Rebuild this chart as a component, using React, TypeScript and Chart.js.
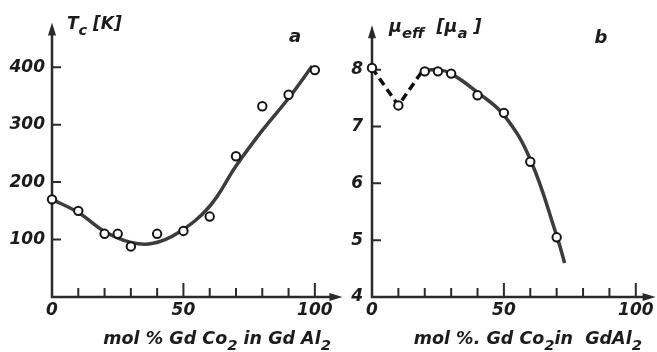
import React, { useEffect, useRef } from "react";
import { Chart, registerables } from "chart.js";

Chart.register(...registerables);

// ---------- Panel a data ----------
const A_POINT_X = [0, 10, 20, 25, 30, 40, 50, 60, 70, 80, 90, 100];
const A_POINT_Y = [170, 150, 110, 110, 88, 110, 115, 140, 245, 332, 352, 395];
const A_CURVE_X = [0, 10, 20, 30, 38, 48, 60, 70, 80, 90, 99];
const A_CURVE_Y = [170, 147, 114, 95, 93, 112, 158, 228, 290, 346, 402];
const A_Y_TICKS = [100, 200, 300, 400];
const A_Y_TITLE = [{ t: "T" }, { t: "c", sub: true }, { t: " [K]" }];
const A_LETTER = "a";
const A_X_TITLE = [{ t: "mol % Gd Co" }, { t: "2", sub: true }, { t: " in Gd Al" }, { t: "2", sub: true }];

// ---------- Panel b data ----------
const B_POINT_X = [0, 10, 20, 25, 30, 40, 50, 60, 70];
const B_POINT_Y = [8.03, 7.37, 7.97, 7.97, 7.93, 7.55, 7.24, 6.38, 5.05];
const B_DASH_X = [0, 10, 19];
const B_DASH_Y = [8.03, 7.37, 7.97];
const B_CURVE_X = [19, 25, 30, 40, 50, 60, 70, 73];
const B_CURVE_Y = [7.98, 8.0, 7.93, 7.6, 7.2, 6.42, 5.08, 4.6];
const B_Y_TICKS = [4, 5, 6, 7, 8];
const B_Y_TITLE = [{ t: "\u03bc" }, { t: "eff", sub: true }, { t: "  [\u03bc" }, { t: "a", sub: true }, { t: " ]" }];
const B_LETTER = "b";
const B_X_TITLE = [{ t: "mol %. Gd Co" }, { t: "2", sub: true }, { t: "in  GdAl" }, { t: "2", sub: true }];

const X_LABEL_TICKS = [0, 50, 100];
const X_MINOR_TICKS = [10, 20, 30, 40, 50, 60, 70, 80, 90, 100];

const FONT = "'DejaVu Sans', sans-serif";
const INK = "#1c1c1c";

type Part = { t: string; sub?: boolean };

function drawRich(ctx: CanvasRenderingContext2D, parts: Part[], x: number, y: number, size: number, align: "left" | "right") {
  const subSize = size * 0.85;
  const widths = parts.map((p) => {
    ctx.font = `italic bold ${p.sub ? subSize : size}px ${FONT}`;
    return ctx.measureText(p.t).width;
  });
  const total = widths.reduce((a, b) => a + b, 0);
  let cx = align === "right" ? x - total : x;
  ctx.textBaseline = "alphabetic";
  ctx.textAlign = "left";
  parts.forEach((p, i) => {
    ctx.font = `italic bold ${p.sub ? subSize : size}px ${FONT}`;
    ctx.fillText(p.t, cx, p.sub ? y + size * 0.35 : y);
    cx += widths[i];
  });
}

type PanelCfg = {
  left: number;
  width: number;
  yMin: number;
  yMax: number;
  yTicks: number[];
  yArrow: number;
  xArrow: number;
  yLabelPad: number;
  padRight: number;
  axisLeft: number;
  datasets: any[];
  yTitle: Part[];
  yTitleDx: number;
  yTitleBase: number;
  yTitleSize: number;
  letter: string;
  letterX: number;
  letterBase: number;
  xTitle: Part[];
  xTitleRight: number;
};

function arrowHead(ctx: CanvasRenderingContext2D, tipX: number, tipY: number, dir: "up" | "right") {
  ctx.beginPath();
  if (dir === "up") {
    ctx.moveTo(tipX, tipY);
    ctx.lineTo(tipX - 4, tipY + 13);
    ctx.lineTo(tipX + 4, tipY + 13);
  } else {
    ctx.moveTo(tipX, tipY);
    ctx.lineTo(tipX - 13, tipY - 4);
    ctx.lineTo(tipX - 13, tipY + 4);
  }
  ctx.closePath();
  ctx.fill();
}

function Panel({ cfg }: { cfg: PanelCfg }) {
  const ref = useRef<HTMLCanvasElement>(null);
  useEffect(() => {
    const canvas = ref.current!;
    const axesPlugin = {
      id: "axesPlugin",
      beforeDatasetsDraw(chart: any) {
        const ctx = chart.ctx as CanvasRenderingContext2D;
        const xs = chart.scales.x;
        const ys = chart.scales.y;
        const x0 = xs.getPixelForValue(0);
        const y0 = ys.getPixelForValue(cfg.yMin);
        const yTip = ys.getPixelForValue(cfg.yArrow);
        const xTip = xs.getPixelForValue(cfg.xArrow);
        ctx.save();
        ctx.strokeStyle = "#2a2a2a";
        ctx.fillStyle = "#2a2a2a";
        ctx.lineWidth = 2.5;
        ctx.beginPath();
        ctx.moveTo(x0, y0 + 1);
        ctx.lineTo(x0, yTip + 6);
        ctx.moveTo(x0 - 1, y0);
        ctx.lineTo(xTip - 6, y0);
        ctx.stroke();
        arrowHead(ctx, x0, yTip, "up");
        arrowHead(ctx, xTip, y0, "right");
        ctx.lineWidth = 2;
        ctx.beginPath();
        cfg.yTicks.forEach((v) => {
          if (v === cfg.yMin) return;
          const py = ys.getPixelForValue(v);
          ctx.moveTo(x0, py);
          ctx.lineTo(x0 + 9, py);
        });
        X_MINOR_TICKS.forEach((v) => {
          const px = xs.getPixelForValue(v);
          const len = v % 50 === 0 ? 14 : 9;
          ctx.moveTo(px, y0);
          ctx.lineTo(px, y0 - len);
        });
        ctx.stroke();
        ctx.restore();
      },
      afterDraw(chart: any) {
        const ctx = chart.ctx as CanvasRenderingContext2D;
        const ca = chart.chartArea;
        ctx.save();
        ctx.fillStyle = INK;
        drawRich(ctx, cfg.yTitle, ca.left + cfg.yTitleDx, cfg.yTitleBase, cfg.yTitleSize, "left");
        ctx.font = `italic bold 18px ${FONT}`;
        ctx.textAlign = "center";
        ctx.textBaseline = "alphabetic";
        ctx.fillText(cfg.letter, cfg.letterX, cfg.letterBase);
        drawRich(ctx, cfg.xTitle, cfg.xTitleRight, 344, 17.5, "right");
        ctx.restore();
      },
    };
    const chart = new Chart(canvas, {
      type: "line",
      data: { datasets: cfg.datasets },
      options: {
        animation: false,
        responsive: false,
        maintainAspectRatio: false,
        devicePixelRatio: 1,
        layout: { padding: { left: 0, right: cfg.padRight, top: 27, bottom: 0 } },
        plugins: { legend: { display: false }, tooltip: { enabled: false }, title: { display: false } },
        scales: {
          x: {
            type: "linear",
            min: 0,
            max: 105,
            grid: { display: false, drawTicks: false },
            border: { display: false },
            afterBuildTicks: (s: any) => {
              s.ticks = X_LABEL_TICKS.map((v) => ({ value: v }));
            },
            afterFit: (s: any) => {
              s.height = 55;
            },
            ticks: {
              padding: 3,
              color: INK,
              maxRotation: 0,
              autoSkip: false,
              font: { family: FONT, size: 17, style: "italic", weight: "bold" },
            },
          },
          y: {
            type: "linear",
            min: cfg.yMin,
            max: cfg.yMax,
            grid: { display: false, drawTicks: false },
            border: { display: false },
            afterBuildTicks: (s: any) => {
              s.ticks = cfg.yTicks.map((v) => ({ value: v }));
            },
            afterFit: (s: any) => {
              s.width = cfg.axisLeft;
            },
            ticks: {
              padding: cfg.yLabelPad,
              color: INK,
              autoSkip: false,
              font: { family: FONT, size: 17, style: "italic", weight: "bold" },
            },
          },
        },
      } as any,
      plugins: [axesPlugin],
    });
    return () => chart.destroy();
  }, [cfg]);
  return (
    <canvas
      ref={ref}
      width={cfg.width}
      height={352}
      style={{ position: "absolute", left: cfg.left, top: 0, width: cfg.width, height: 352 }}
    />
  );
}

const toXY = (xs: number[], ys: number[]) => xs.map((x, i) => ({ x, y: ys[i] }));

const pointStyle = {
  showLine: false,
  pointRadius: 4.2,
  pointBorderWidth: 2,
  pointBackgroundColor: "#ffffff",
  pointBorderColor: "#151515",
  clip: false,
  order: 0,
};

const curveStyle = {
  pointRadius: 0,
  borderColor: "#3c3c3c",
  borderWidth: 3.5,
  tension: 0.4,
  fill: false,
  clip: false,
  order: 1,
};

const cfgA: PanelCfg = {
  left: 0,
  width: 345,
  yMin: 0,
  yMax: 470,
  yTicks: A_Y_TICKS,
  yArrow: 478,
  xArrow: 110.5,
  yLabelPad: 7,
  padRight: 17,
  axisLeft: 52,
  datasets: [
    { data: toXY(A_POINT_X, A_POINT_Y), ...pointStyle },
    { data: toXY(A_CURVE_X, A_CURVE_Y), ...curveStyle },
  ],
  yTitle: A_Y_TITLE,
  yTitleDx: 15,
  yTitleBase: 29,
  yTitleSize: 17,
  letter: A_LETTER,
  letterX: 295,
  letterBase: 42,
  xTitle: A_X_TITLE,
  xTitleRight: 331,
};

const cfgB: PanelCfg = {
  left: 330,
  width: 327,
  yMin: 4,
  yMax: 8.75,
  yTicks: B_Y_TICKS,
  yArrow: 8.78,
  xArrow: 107.5,
  yLabelPad: 9,
  padRight: 8,
  axisLeft: 42,
  datasets: [
    { data: toXY(B_POINT_X, B_POINT_Y), ...pointStyle },
    {
      data: toXY(B_DASH_X, B_DASH_Y),
      pointRadius: 0,
      borderColor: "#111111",
      borderWidth: 3.5,
      borderDash: [8, 5],
      tension: 0,
      fill: false,
      clip: false,
      order: 1,
    },
    { data: toXY(B_CURVE_X, B_CURVE_Y), ...curveStyle },
  ],
  yTitle: B_Y_TITLE,
  yTitleDx: 17,
  yTitleBase: 32,
  yTitleSize: 17.5,
  letter: B_LETTER,
  letterX: 271,
  letterBase: 43,
  xTitle: B_X_TITLE,
  xTitleRight: 312,
};

export default function App() {
  return (
    <div style={{ position: "fixed", left: 0, top: 0, width: 657, height: 352, background: "#ffffff" }}>
      <Panel cfg={cfgA} />
      <Panel cfg={cfgB} />
    </div>
  );
}
